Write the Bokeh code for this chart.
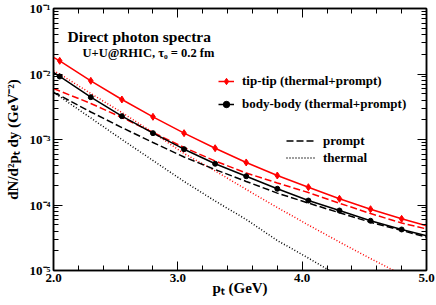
from bokeh.plotting import figure
from bokeh.models import (LogAxis, LinearAxis, SingleIntervalTicker, LogTicker,
                          PrintfTickFormatter, CustomJSTickFormatter, Label,
                          Legend, LegendItem, Range1d)
from bokeh.embed import file_html
from bokeh.resources import INLINE

# ---------------- data ----------------
pt = [2.0, 2.05, 2.3, 2.55, 2.8, 3.05, 3.3, 3.55, 3.8, 4.05, 4.3, 4.55, 4.8, 5.0]
tip_total = [1.79e-2, 1.59e-2, 7.87e-3, 4.08e-3, 2.22e-3, 1.25e-3, 7.36e-4,
             4.46e-4, 2.82e-4, 1.87e-4, 1.245e-4, 8.63e-5, 6.15e-5, 4.81e-5]
body_total = [1.054e-2, 9.16e-3, 4.43e-3, 2.27e-3, 1.25e-3, 7.11e-4, 4.26e-4,
              2.75e-4, 1.77e-4, 1.17e-4, 8.24e-5, 5.74e-5, 4.23e-5, 3.39e-5]
tip_prompt = [6.01e-3, 5.50e-3, 3.55e-3, 2.17e-3, 1.28e-3, 7.55e-4, 4.70e-4,
              3.08e-4, 2.17e-4, 1.55e-4, 1.064e-4, 7.41e-5, 5.31e-5, 4.31e-5]
body_prompt = [5.22e-3, 4.70e-3, 2.63e-3, 1.52e-3, 9.00e-4, 5.41e-4, 3.48e-4,
               2.29e-4, 1.52e-4, 1.07e-4, 7.60e-5, 5.46e-5, 4.08e-5, 3.24e-5]
tip_thermal = [1.112e-2, 1.0e-2, 5.04e-3, 2.58e-3, 1.28e-3, 6.11e-4, 3.32e-4,
               1.73e-4, 9.16e-5, 4.95e-5, 2.72e-5, 1.52e-5, 8.69e-6, 5.50e-6]
body_thermal = [5.22e-3, 4.53e-3, 2.13e-3, 1.0e-3, 4.78e-4, 2.29e-4, 1.15e-4,
                6.01e-5, 2.87e-5, 1.55e-5, 8.09e-6, 4.61e-6, 2.72e-6, 1.85e-6]
# markers sit on the inner grid points
mark_pt = pt[1:-1]
tip_mark = tip_total[1:-1]
body_mark = body_total[1:-1]

x_ticks_interval = 1.0
x_range = (2.0, 5.0)
y_range = (1e-5, 1e-1)

x_title = "pₜ (GeV)"
y_title = "dN/d²pₜ dy (GeV⁻²)"
title_text = "Direct photon spectra"
subtitle_text = "U+U@RHIC, τ₀ = 0.2 fm"
leg_tip = "tip-tip (thermal+prompt)"
leg_body = "body-body (thermal+prompt)"
leg_prompt = "prompt"
leg_thermal = "thermal"

FONT = "Liberation Serif"
RED = "#ff0000"

p = figure(frame_width=373, frame_height=262, y_axis_type="log",
           x_range=Range1d(*x_range), y_range=Range1d(*y_range),
           output_backend="svg", toolbar_location=None,
           min_border_left=53, min_border_right=10, min_border_top=8,
           min_border_bottom=35, background_fill_color="white",
           border_fill_color="white")
p.xgrid.visible = False
p.ygrid.visible = False
p.outline_line_color = "black"
p.outline_line_width = 1.5

sup_code = """
const e = Math.round(Math.log10(tick));
const s = {"-":"\u207b","0":"\u2070","1":"\u00b9","2":"\u00b2","3":"\u00b3","4":"\u2074","5":"\u2075","6":"\u2076","7":"\u2077","8":"\u2078","9":"\u2079"};
return "10" + String(e).split("").map(c => s[c]).join("");
"""

def style_axis(ax, labels=True):
    ax.axis_line_color = "black"
    ax.axis_line_width = 1.5
    ax.major_tick_in = 9
    ax.major_tick_out = 0
    ax.minor_tick_in = 5
    ax.minor_tick_out = 0
    ax.major_tick_line_color = "black"
    ax.minor_tick_line_color = "black"
    ax.major_tick_line_width = 1
    ax.minor_tick_line_width = 1
    if labels:
        ax.major_label_text_font = FONT
        ax.major_label_text_font_style = "bold"
        ax.major_label_text_font_size = "13px"
        ax.major_label_text_color = "black"
        ax.major_label_standoff = 3
        ax.axis_label_text_font = FONT
        ax.axis_label_text_font_style = "bold"
        ax.axis_label_text_font_size = "15px"
        ax.axis_label_text_color = "black"
    else:
        ax.formatter = CustomJSTickFormatter(code='return ""')
        ax.major_label_standoff = 0

p.xaxis.ticker = SingleIntervalTicker(interval=x_ticks_interval, num_minor_ticks=5)
p.xaxis.formatter = PrintfTickFormatter(format="%.1f")
p.yaxis.ticker = LogTicker(num_minor_ticks=10)
p.yaxis.formatter = CustomJSTickFormatter(code=sup_code)
style_axis(p.xaxis[0])
style_axis(p.yaxis[0])
p.xaxis.axis_label = x_title
p.xaxis.axis_label_standoff = -5
p.yaxis.axis_label = y_title
p.yaxis.axis_label_standoff = 6

top = LinearAxis(ticker=SingleIntervalTicker(interval=x_ticks_interval, num_minor_ticks=5))
style_axis(top, labels=False)
p.add_layout(top, "above")
right = LogAxis(ticker=LogTicker(num_minor_ticks=10))
style_axis(right, labels=False)
p.add_layout(right, "right")

# ---------------- curves ----------------
r_tip_th = p.line(pt, tip_thermal, line_color=RED, line_width=1.5, line_dash="1 2")
r_body_th = p.line(pt, body_thermal, line_color="black", line_width=1.5, line_dash="1 2")
r_tip_pr = p.line(pt, tip_prompt, line_color=RED, line_width=1.5, line_dash="7 3")
r_body_pr = p.line(pt, body_prompt, line_color="black", line_width=1.5, line_dash="7 3")
r_tip = p.line(pt, tip_total, line_color=RED, line_width=1.5)
r_body = p.line(pt, body_total, line_color="black", line_width=1.5)
m_tip = p.scatter(mark_pt, tip_mark, marker="diamond", size=7, color=RED)
m_body = p.scatter(mark_pt, body_mark, marker="circle", size=5, color="black")

# ---------------- legends ----------------
def legend_style(lg):
    lg.border_line_alpha = 0
    lg.background_fill_alpha = 0
    lg.label_text_font = FONT
    lg.label_text_font_style = "bold"
    lg.label_text_font_size = "13px"
    lg.label_text_color = "black"
    lg.padding = 0
    lg.margin = 0

lg1 = Legend(items=[LegendItem(label=leg_tip, renderers=[r_tip, m_tip]),
                    LegendItem(label=leg_body, renderers=[r_body, m_body])],
             location=(165, 156), glyph_width=16, glyph_height=20,
             label_height=20, spacing=3, label_standoff=8)
legend_style(lg1)
p.add_layout(lg1)

lg2 = Legend(items=[LegendItem(label=leg_prompt, renderers=[r_body_pr]),
                    LegendItem(label=leg_thermal, renderers=[r_body_th])],
             location=(233, 104), glyph_width=30, glyph_height=17,
             label_height=17, spacing=0, label_standoff=7)
legend_style(lg2)
p.add_layout(lg2)

# ---------------- texts inside the frame ----------------
def make_label(text, sx, sy, size):
    return Label(x=sx, y=sy, x_units="screen", y_units="screen", text=text,
                 text_font=FONT, text_font_style="bold",
                 text_font_size=f"{size}px", text_color="black",
                 text_align="left", text_baseline="alphabetic")

p.add_layout(make_label(title_text, 14, 234, 15.5))
p.add_layout(make_label(subtitle_text, 29, 218, 12.5))

open("out.html", "w").write(file_html(p, INLINE))
